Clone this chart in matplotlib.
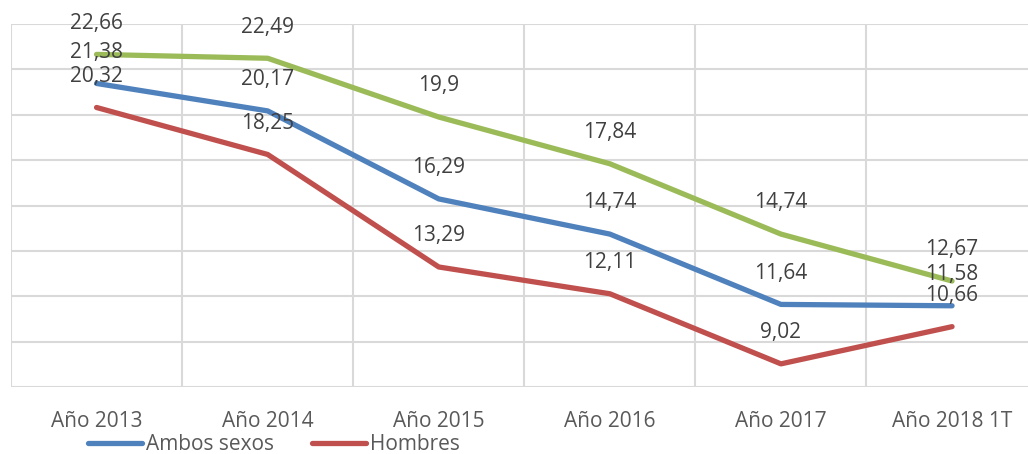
import matplotlib
matplotlib.use("Agg")
import matplotlib.pyplot as plt
from matplotlib.lines import Line2D
import numpy as np

categories = ["Año 2013", "Año 2014", "Año 2015", "Año 2016", "Año 2017", "Año 2018 1T"]
ambos = [21.38, 20.17, 16.29, 14.74, 11.64, 11.58]
hombres = [20.32, 18.25, 13.29, 12.11, 9.02, 10.66]
mujeres = [22.66, 22.49, 19.9, 17.84, 14.74, 12.67]

series = [
    ("Ambos sexos", ambos, "#4F81BD"),
    ("Hombres", hombres, "#C0504D"),
    ("Mujeres", mujeres, "#9BBB59"),
]

plt.rcParams['font.family'] = ['Open Sans', 'DejaVu Sans']

W, H = 1028, 454
fig = plt.figure(figsize=(W / 100, H / 100), dpi=100)
left, right, top, bottom = 11, 1037.6, 24, 387
ax = fig.add_axes([left / W, 1 - bottom / H, (right - left) / W, (bottom - top) / H])

x = np.arange(len(categories))
for name, vals, col in series:
    ax.plot(x, vals, color=col, lw=3.8, solid_capstyle='round', solid_joinstyle='round', zorder=3)
    for xi, v in zip(x, vals):
        ax.annotate(f"{v:g}".replace('.', ','), (xi, v), xytext=(0, 22.5), textcoords='offset points',
                    ha='center', va='center', fontsize=15, color='#404040', zorder=4)

ax.set_xlim(-0.5, len(categories) - 0.5)
ax.set_ylim(8, 24)
ax.set_yticks(np.arange(8, 24.1, 2))
ax.set_yticklabels([])
ax.set_xticks(x)
ax.set_xticklabels(categories, fontsize=15, color='#595959')
ax.set_xticks(np.arange(-0.5, len(categories), 1), minor=True)
ax.tick_params(axis='both', which='both', length=0)
ax.tick_params(axis='x', pad=17)
ax.grid(True, axis='y', which='major', color='#D9D9D9', lw=1.5)
ax.grid(True, axis='x', which='minor', color='#D9D9D9', lw=1.5)
ax.grid(False, axis='x', which='major')
for s in ax.spines.values():
    s.set_visible(False)
ax.set_axisbelow(True)

handles = [Line2D([0], [0], color=col, lw=3.8, solid_capstyle='round') for _, _, col in series[:2]]
labels = [name for name, _, _ in series[:2]]
fig.legend(handles, labels, loc='center left', bbox_to_anchor=(88 / W, 1 - 445 / H), ncol=2,
           frameon=False, fontsize=15, labelcolor='#595959', handlelength=2.6, handletextpad=0.2,
           columnspacing=1.8, borderaxespad=0, borderpad=0)

fig.savefig("out.png", dpi=100)
